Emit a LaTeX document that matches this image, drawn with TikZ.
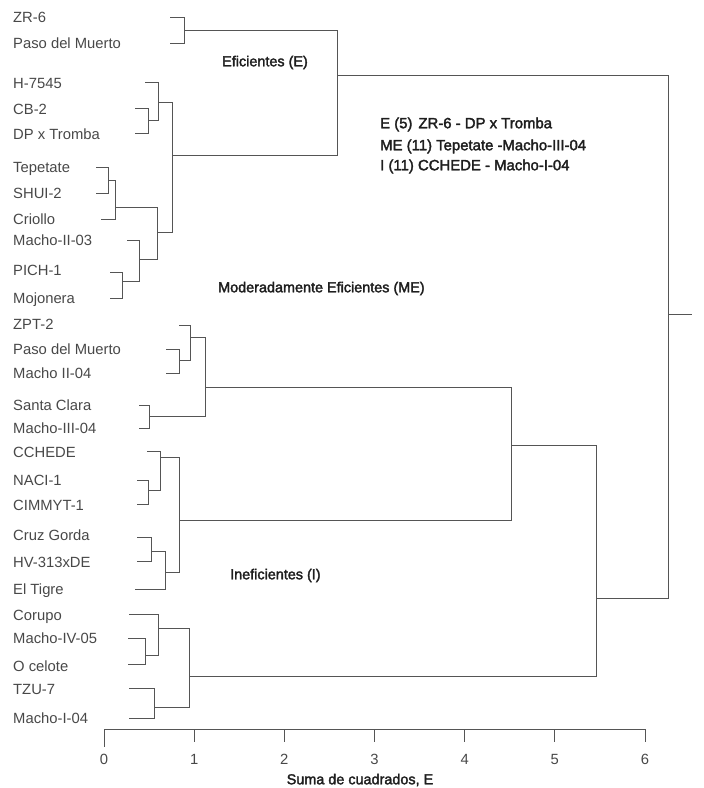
\documentclass[tikz,border=0pt]{standalone}
\usepackage{fontspec}
\setmainfont{Liberation Sans}
\newfontfamily\medfont[FakeBold=2.2]{Liberation Sans}
\definecolor{lineC}{RGB}{85,85,85}
\definecolor{leafC}{RGB}{72,72,72}
\definecolor{labC}{RGB}{30,30,30}
\begin{document}
\begin{tikzpicture}[x=1pt,y=-1pt,
  dend/.style={draw=lineC,line width=0.9pt,line join=miter},
  leaf/.style={anchor=west,inner sep=0pt,text=leafC,font=\fontsize{14.8}{16}\selectfont,text height=10.5pt,text depth=0pt},
  grp/.style={anchor=west,inner sep=0pt,text=labC,font=\medfont\fontsize{14.4}{16}\selectfont,text height=10.5pt,text depth=0pt},
  legend/.style={anchor=west,inner sep=0pt,text=labC,font=\medfont\fontsize{14.9}{16}\selectfont,text height=10.5pt,text depth=0pt},
  ticklab/.style={inner sep=0pt,text=leafC,font=\fontsize{14.8}{16}\selectfont,text height=10.5pt,text depth=0pt}]
\useasboundingbox (0,0) rectangle (704,788);
% leaves
\node[leaf] (l1) at (13,17) {ZR-6};
\node[leaf] (l2) at (13,43) {Paso del Muerto};
\node[leaf] (l3) at (13,83) {H-7545};
\node[leaf] (l4) at (13,109) {CB-2};
\node[leaf] (l5) at (13,134) {DP x Tromba};
\node[leaf] (l6) at (13,167) {Tepetate};
\node[leaf] (l7) at (13,193) {SHUI-2};
\node[leaf] (l8) at (13,219) {Criollo};
\node[leaf] (l9) at (13,240) {Macho-II-03};
\node[leaf] (l10) at (13,270) {PICH-1};
\node[leaf] (l11) at (13,298) {Mojonera};
\node[leaf] (l12) at (13,324) {ZPT-2};
\node[leaf] (l13) at (13,349) {Paso del Muerto};
\node[leaf] (l14) at (13,373) {Macho II-04};
\node[leaf] (l15) at (13,405) {Santa Clara};
\node[leaf] (l16) at (13,428) {Macho-III-04};
\node[leaf] (l17) at (13,452) {CCHEDE};
\node[leaf] (l18) at (13,480) {NACI-1};
\node[leaf] (l19) at (13,505) {CIMMYT-1};
\node[leaf] (l20) at (13,535) {Cruz Gorda};
\node[leaf] (l21) at (13,562) {HV-313xDE};
\node[leaf] (l22) at (13,589) {El Tigre};
\node[leaf] (l23) at (13,615) {Corupo};
\node[leaf] (l24) at (13,638) {Macho-IV-05};
\node[leaf] (l25) at (13,666) {O celote};
\node[leaf] (l26) at (13,689) {TZU-7};
\node[leaf] (l27) at (13,718) {Macho-I-04};
% group labels
\node[grp] (gE) at (222,61) {Eficientes (E)};
\node[grp] (gME) at (218,287) {Moderadamente Eficientes (ME)};
\node[grp] (gI) at (230,574) {Ineficientes (I)};
\node[legend] (t1) at (380,123) {E (5)\hspace{6pt}ZR-6 - DP x Tromba};
\node[legend] (t2) at (380,145) {ME (11) Tepetate -Macho-III-04};
\node[legend] (t3) at (380,165) {I (11) CCHEDE - Macho-I-04};
% E cluster
\draw[dend] (170,17) -- (184,17) -- (184,43) -- (170,43);
\draw[dend] (184,30) -- (337,30) -- (337,155) -- (172,155);
\draw[dend] (145,82) -- (158,82) -- (158,120) -- (148,120);
\draw[dend] (135,108) -- (148,108) -- (148,133) -- (135,133);
\draw[dend] (158,102) -- (172,102) -- (172,232) -- (157,232);
\draw[dend] (96,167) -- (108,167) -- (108,193) -- (96,193);
\draw[dend] (108,180) -- (115,180) -- (115,219) -- (101,219);
\draw[dend] (115,207) -- (157,207) -- (157,259) -- (139,259);
\draw[dend] (127,240) -- (139,240) -- (139,281) -- (122,281);
\draw[dend] (110,272) -- (122,272) -- (122,298) -- (110,298);
\draw[dend] (337,75) -- (668,75) -- (668,598) -- (596,598);
\coordinate (root) at (692,314);
\draw[dend] (668,314) -- (root);
% ME cluster
\draw[dend] (179,325) -- (190,325) -- (190,360) -- (179,360);
\draw[dend] (166,349) -- (179,349) -- (179,373) -- (166,373);
\draw[dend] (190,337) -- (205,337) -- (205,416) -- (149,416);
\draw[dend] (139,405) -- (149,405) -- (149,428) -- (139,428);
\draw[dend] (205,387) -- (511,387) -- (511,520) -- (179,520);
\draw[dend] (511,445) -- (596,445) -- (596,676) -- (189,676);
% I cluster
\draw[dend] (147,451) -- (160,451) -- (160,490) -- (148,490);
\draw[dend] (137,480) -- (148,480) -- (148,504) -- (137,504);
\draw[dend] (160,457) -- (179,457) -- (179,572) -- (165,572);
\draw[dend] (137,537) -- (151,537) -- (151,561) -- (137,561);
\draw[dend] (151,551) -- (165,551) -- (165,589) -- (135,589);
\draw[dend] (129,614) -- (158,614) -- (158,655) -- (145,655);
\draw[dend] (128,638) -- (145,638) -- (145,664) -- (128,664);
\draw[dend] (158,628) -- (189,628) -- (189,707) -- (154,707);
\draw[dend] (129,688) -- (154,688) -- (154,718) -- (129,718);
% axis
\draw[dend] (104,729) -- (645,729);
\draw[dend] (104,729) -- (104,747);
\foreach \i in {1,...,6} {\draw[dend] ({104+90.17*\i},729) -- ({104+90.17*\i},742);}
\foreach \i in {0,...,6} {\node[ticklab] (n\i) at ({104+90.17*\i},759) {\i};}
\node[ticklab,text=labC,font=\medfont\fontsize{14.4}{16}\selectfont] (ax) at (360,779) {Suma de cuadrados, E};
\end{tikzpicture}
\end{document}
